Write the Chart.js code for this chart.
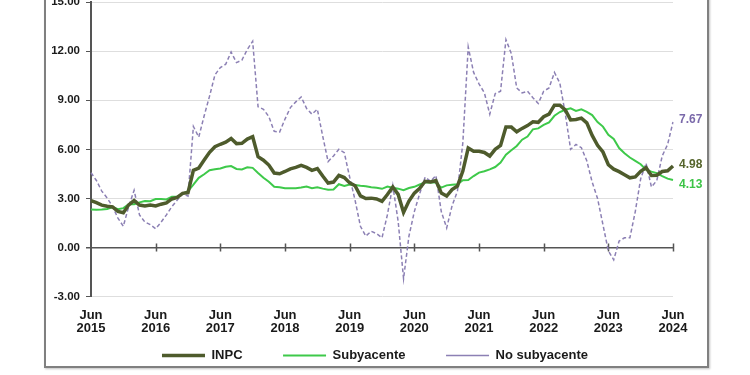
<!DOCTYPE html>
<html>
<head>
<meta charset="utf-8">
<script src="https://cdn.jsdelivr.net/npm/chart.js@4.4.1/dist/chart.umd.min.js"></script>
<style>
  html, body { margin: 0; padding: 0; background: #fff; overflow: hidden; }
  body { width: 750px; height: 375px; position: relative; }
  #frame { position: absolute; left: 44px; top: -10px; width: 665px; height: 378px; box-sizing: border-box; border: 2px solid #808080; box-shadow: 1px 1px 2px rgba(0,0,0,0.25); }
  #wrap { position: absolute; left: 0; top: -20px; width: 750px; height: 395px; }
</style>
</head>
<body>
<div id="frame"></div>
<div id="wrap"><canvas id="chart" width="750" height="395"></canvas></div>
<script>
// Inflación anual, jun 2015 - jun 2024 (mensual)
const monthNames = ['Ene', 'Feb', 'Mar', 'Abr', 'May', 'Jun', 'Jul', 'Ago', 'Sep', 'Oct', 'Nov', 'Dic'];
const yearLabels = ['2015', '2016', '2017', '2018', '2019', '2020', '2021', '2022', '2023', '2024'];

const months = [];
for (let i = 0; i < 109; i++) {
    const mi = (5 + i) % 12;
    const yi = Math.floor((5 + i) / 12);
    months.push(monthNames[mi] + ' ' + yearLabels[yi]);
}

const inpc = [
    2.87, 2.74, 2.59, 2.52, 2.48, 2.21, 2.13,
    2.61, 2.87, 2.60, 2.54, 2.60, 2.54, 2.65, 2.73, 2.97, 3.06, 3.31, 3.36,
    4.72, 4.86, 5.35, 5.82, 6.16, 6.31, 6.44, 6.66, 6.35, 6.37, 6.63, 6.77,
    5.55, 5.34, 5.04, 4.55, 4.51, 4.65, 4.81, 4.90, 5.02, 4.90, 4.72, 4.83,
    4.37, 3.94, 4.00, 4.41, 4.28, 3.95, 3.78, 3.16, 3.00, 3.02, 2.97, 2.83,
    3.24, 3.70, 3.25, 2.15, 2.84, 3.33, 3.62, 4.05, 4.01, 4.09, 3.33, 3.15,
    3.54, 3.76, 4.67, 6.08, 5.89, 5.88, 5.81, 5.59, 6.00, 6.24, 7.37, 7.36,
    7.07, 7.28, 7.45, 7.68, 7.65, 7.99, 8.15, 8.70, 8.70, 8.41, 7.80, 7.82,
    7.91, 7.62, 6.85, 6.25, 5.84, 5.06, 4.79, 4.64, 4.45, 4.26, 4.32, 4.66,
    4.88, 4.40, 4.42, 4.65, 4.69, 4.98
];

const subyacente = [
    2.32, 2.31, 2.32, 2.36, 2.47, 2.34, 2.41,
    2.64, 2.65, 2.76, 2.85, 2.83, 2.97, 2.97, 2.94, 3.10, 3.10, 3.29, 3.44,
    3.84, 4.26, 4.48, 4.72, 4.78, 4.83, 4.94, 4.98, 4.80, 4.77, 4.90, 4.87,
    4.56, 4.27, 4.02, 3.71, 3.69, 3.62, 3.63, 3.63, 3.67, 3.73, 3.63, 3.68,
    3.60, 3.54, 3.55, 3.87, 3.77, 3.85, 3.82, 3.78, 3.75, 3.68, 3.65, 3.59,
    3.73, 3.66, 3.60, 3.50, 3.64, 3.71, 3.85, 3.97, 3.99, 3.98, 3.66, 3.80,
    3.84, 3.87, 4.12, 4.13, 4.37, 4.58, 4.66, 4.78, 4.92, 5.19, 5.67, 5.94,
    6.21, 6.59, 6.78, 7.22, 7.28, 7.49, 7.65, 8.05, 8.28, 8.42, 8.51, 8.35,
    8.45, 8.29, 8.09, 7.67, 7.39, 6.89, 6.64, 6.08, 5.76, 5.50, 5.30, 5.09,
    4.76, 4.64, 4.55, 4.37, 4.21, 4.13
];

const noSubyacente = [
    4.57, 4.10, 3.45, 3.03, 2.51, 1.80, 1.30,
    2.52, 3.50, 2.00, 1.56, 1.40, 1.15, 1.55, 2.00, 2.50, 2.90, 3.30, 3.15,
    7.40, 6.75, 8.05, 9.25, 10.55, 11.00, 11.20, 11.95, 11.30, 11.45, 12.10, 12.60,
    8.60, 8.45, 8.00, 7.10, 7.05, 7.85, 8.55, 8.90, 9.20, 8.50, 8.15, 8.45,
    6.80, 5.25, 5.60, 6.00, 5.80, 4.30, 2.90, 1.30, 0.70, 1.00, 0.85, 0.60,
    2.00, 3.80, 1.60, -1.90, 0.70, 2.20, 3.30, 4.30, 4.05, 4.40, 2.20, 1.20,
    2.55, 3.45, 6.40, 12.25, 10.70, 10.00, 9.45, 8.15, 9.40, 9.55, 12.70, 11.85,
    9.75, 9.45, 9.55, 9.15, 8.80, 9.55, 9.75, 10.70, 10.05, 8.20, 6.00, 6.30,
    6.10, 5.30, 4.00, 3.00, 1.40, -0.20, -0.75, 0.40, 0.60, 0.60, 2.20, 4.20,
    5.15, 3.70, 4.10, 5.60, 6.30, 7.67
];

const FONT = 'Arial, "Liberation Sans", sans-serif';
const endColors = ['#56652c', '#3cc446', '#7a69aa'];
const endOffsets = [-1, 5, -2];

Chart.defaults.font.family = FONT;
Chart.defaults.font.weight = 'bold';
Chart.defaults.color = '#1a1a1a';

// marcas del eje en la linea de cero
const zeroTicks = {
    id: 'zeroTicks',
    beforeDatasetsDraw(chart) {
        const { ctx, scales: { x, y } } = chart;
        const y0 = y.getPixelForValue(0);
        ctx.save();
        ctx.strokeStyle = '#555';
        ctx.lineWidth = 1.5;
        ctx.beginPath();
        for (let i = 12; i < months.length; i += 12) {
            const px = Math.round(x.getPixelForValue(i)) + 0.5;
            ctx.moveTo(px, y0 - 4);
            ctx.lineTo(px, y0 + 4);
        }
        ctx.stroke();
        ctx.restore();
    }
};

// ultimo dato a la derecha de cada serie
const endLabels = {
    id: 'endLabels',
    afterDatasetsDraw(chart) {
        const { ctx } = chart;
        ctx.save();
        ctx.font = 'bold 12px ' + FONT;
        ctx.textBaseline = 'middle';
        ctx.textAlign = 'left';
        chart.data.datasets.forEach((ds, i) => {
            const meta = chart.getDatasetMeta(i);
            const pt = meta.data[meta.data.length - 1];
            const v = ds.data[ds.data.length - 1];
            ctx.fillStyle = endColors[i];
            ctx.fillText(v.toFixed(2), pt.x + 6, pt.y + endOffsets[i]);
        });
        ctx.restore();
    }
};

new Chart(document.getElementById('chart'), {
    type: 'line',
    data: {
        labels: months,
        datasets: [{
            label: 'INPC',
            data: inpc,
            borderColor: '#4e5b2c',
            borderWidth: 3.5,
            yAxisID: 'y'
        }, {
            label: 'Subyacente',
            data: subyacente,
            borderColor: '#3ec94a',
            borderWidth: 2,
            yAxisID: 'y'
        }, {
            label: 'No subyacente',
            data: noSubyacente,
            borderColor: '#8c80b4',
            borderWidth: 1.5,
            borderDash: [4, 2.5],
            yAxisID: 'y'
        }]
    },
    options: {
        responsive: false,
        animation: false,
        devicePixelRatio: 1,
        elements: {
            point: { radius: 0 },
            line: { tension: 0, borderCapStyle: 'butt' }
        },
        layout: { padding: { top: 22, left: 0, right: 0, bottom: 3 } },
        plugins: {
            tooltip: { enabled: false },
            legend: {
                position: 'bottom',
                labels: {
                    usePointStyle: true,
                    pointStyle: 'line',
                    pointStyleWidth: 43,
                    padding: 8,
                    color: '#1a1a1a',
                    font: { size: 13, weight: 'bold' },
                    generateLabels: (chart) => {
                        const items = Chart.defaults.plugins.legend.labels.generateLabels(chart);
                        return items.map((it, i) => Object.assign(it, {
                            text: it.text + (i < items.length - 1 ? ' '.repeat(9) : '')
                        }));
                    }
                }
            }
        },
        scales: {
            x: {
                grid: { display: false, drawTicks: true, tickLength: 6 },
                border: { display: false },
                ticks: {
                    autoSkip: false,
                    maxRotation: 0,
                    padding: 5.5,
                    color: '#1a1a1a',
                    font: { size: 13, weight: 'bold', lineHeight: 1.05 },
                    callback: (val, idx) => idx % 12 === 0 ? ['Jun', yearLabels[idx / 12]] : null
                }
            },
            y: {
                position: 'left',
                min: -3,
                max: 15,
                afterFit: (s) => { s.width = 91; },
                grid: {
                    color: (c) => c.tick.value === 0 ? '#555' : '#dedede',
                    lineWidth: (c) => c.tick.value === 0 ? 1.5 : 1,
                    tickColor: '#555',
                    tickLength: 5
                },
                border: { display: true, color: '#555', width: 2 },
                ticks: {
                    stepSize: 3,
                    padding: 6,
                    color: '#1a1a1a',
                    font: { size: 11.5, weight: 'bold' },
                    callback: (v) => v.toFixed(2)
                }
            },
            y2: {
                type: 'linear',
                position: 'right',
                display: true,
                afterFit: (s) => { s.width = 77; },
                grid: { display: false, drawTicks: false },
                border: { display: false },
                ticks: { display: false }
            }
        }
    },
    plugins: [zeroTicks, endLabels]
});
</script>
</body>
</html>
